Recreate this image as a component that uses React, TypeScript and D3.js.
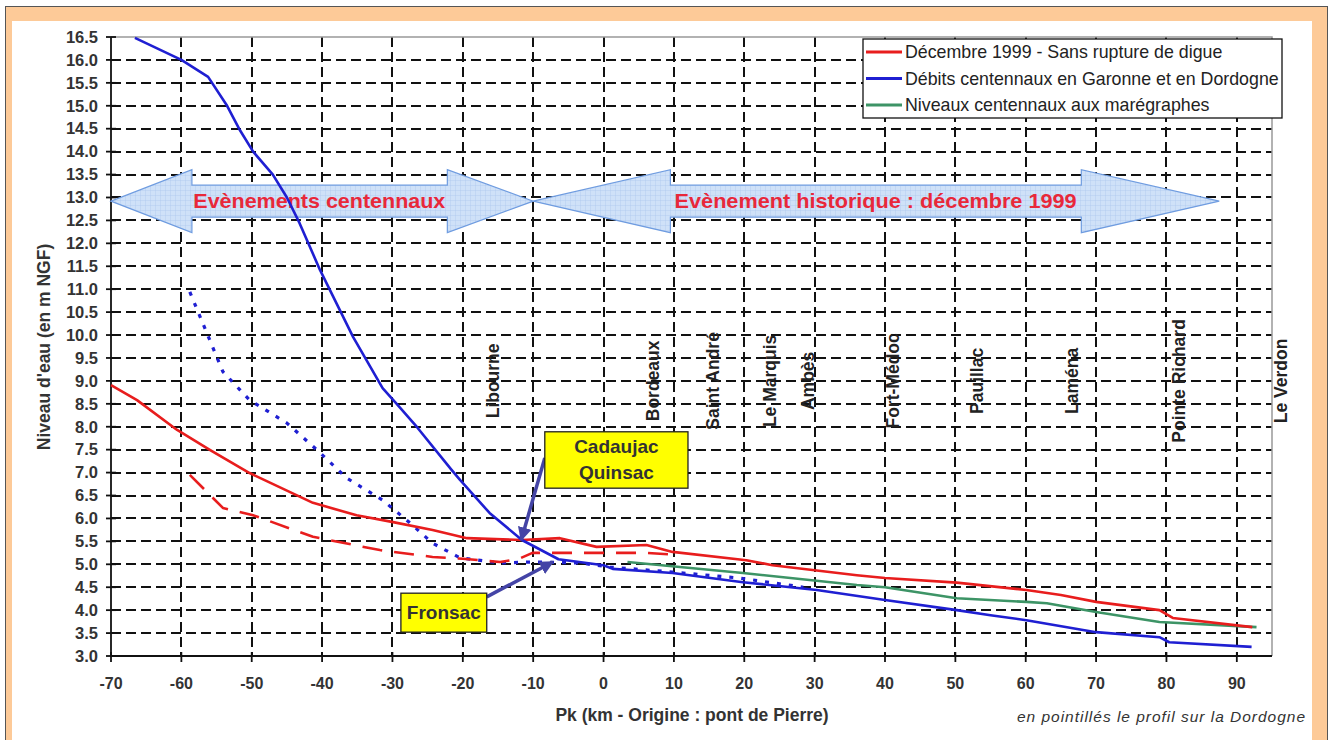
import * as d3 from 'd3'

// Pk (km) / niveau (m NGF)
const decembrePk = [-70, -66.3, -60.6, -55.9, -50.3, -41.3, -35.1, -29.9, -24.3, -19.4, -11.6, -6.2, -1, 6.1, 9.8, 20.3, 24, 36, 40, 50.2, 60.1, 65, 70, 79, 80.9, 92.2]
const decembreVal = [8.91, 8.58, 7.93, 7.49, 6.99, 6.34, 6.07, 5.92, 5.75, 5.57, 5.53, 5.57, 5.38, 5.42, 5.27, 5.09, 4.98, 4.76, 4.7, 4.6, 4.44, 4.33, 4.18, 4.0, 3.83, 3.63]

const debitsPk = [-66.6, -60, -56.2, -53.5, -51.8, -49.8, -47, -45, -43.2, -40.3, -35.6, -31.4, -29.4, -26.5, -21.6, -20.4, -16.2, -11.6, -6.4, 0, 1.3, 9.8, 19.8, 30.3, 40, 50.2, 55, 60.1, 70, 79, 80.4, 92.1]
const debitsVal = [16.48, 16.0, 15.63, 15.0, 14.5, 14.0, 13.5, 13.0, 12.44, 11.42, 9.96, 8.84, 8.5, 7.99, 7.06, 6.84, 6.12, 5.53, 5.11, 4.98, 4.9, 4.81, 4.61, 4.44, 4.22, 4.0, 3.89, 3.78, 3.52, 3.41, 3.3, 3.2]

const maregraphesPk = [3.4, 19.8, 36, 40, 50.2, 60.1, 63, 70, 79, 92.8]
const maregraphesVal = [5.05, 4.81, 4.55, 4.5, 4.26, 4.18, 4.15, 3.96, 3.74, 3.63]

// profils Dordogne (pointillés)
const decembreDordognePk = [-58.8, -54.1, -49.8, -41.3, -31.8, -24.3, -20, -14.7, -12, -10.1, -4.4, 6.1, 10.8]
const decembreDordogneVal = [6.95, 6.23, 6.07, 5.6, 5.31, 5.16, 5.12, 5.05, 5.12, 5.25, 5.25, 5.25, 5.2]

const debitsDordognePk = [-58.8, -54.1, -50.3, -45, -40.7, -36.5, -31.4, -27.5, -24.3, -20.4, -14.7, -10.1, -3.4, 0.9, 9.8, 19.3, 28.4]
const debitsDordogneVal = [10.94, 9.2, 8.58, 8.08, 7.49, 6.88, 6.4, 5.9, 5.46, 5.14, 5.03, 5.05, 5.03, 4.94, 4.83, 4.7, 4.5]

const placeNames = ['Libourne', 'Bordeaux', 'Saint André', 'Le Marquis', 'Ambès', 'Fort-Médoc', 'Pauillac', 'Laména', 'Pointe Richard', 'Le Verdon']
const placePk = [-15.7, 7.0, 15.5, 23.6, 29.0, 41.1, 53.0, 66.5, 81.8, 96.3]

const legendLabels = [
  'Décembre 1999 - Sans rupture de digue',
  'Débits centennaux en Garonne et en Dordogne',
  'Niveaux centennaux aux marégraphes',
]

const xTicks = d3.range(-70, 91, 10)
const yTicks = d3.range(3, 16.51, 0.5)

const RED = '#e81d1d'
const BLUE = '#1f1fd2'
const GREEN = '#3d9466'
const FONT = 'Liberation Sans, Arial, sans-serif'

const W = 1333
const H = 740

export default function App() {
  const x = d3.scaleLinear().domain([-70, 95]).range([111, 1272])
  const y = d3.scaleLinear().domain([3, 16.5]).range([656, 37])

  const line = (pk: number[], val: number[]) =>
    d3.line<number>().x((d) => x(pk[d])).y((d) => y(val[d]))(d3.range(pk.length)) || ''

  // double arrows (annotation) in data units
  const arrowY = 12.92
  const doubleArrow = (a: number, b: number, headL: number, headR: number) => {
    const yc = y(arrowY)
    const sh = 16
    const hh = 31.5
    const x0 = x(a)
    const x1 = x(b)
    const xl = x(a + headL)
    const xr = x(b - headR)
    return `M${x0},${yc} L${xl},${yc - hh} L${xl},${yc - sh} L${xr},${yc - sh} L${xr},${yc - hh} L${x1},${yc} L${xr},${yc + hh} L${xr},${yc + sh} L${xl},${yc + sh} L${xl},${yc + hh} Z`
  }

  const legendColors = [RED, BLUE, GREEN]

  return (
    <svg width={W} height={H} style={{ position: 'absolute', left: 0, top: 0, fontFamily: FONT }}>
      <defs>
        <pattern id="grid" width="5" height="5" patternUnits="userSpaceOnUse">
          <rect width="5" height="5" fill="#cfe1f8" />
          <path d="M5,0 L0,0 L0,5" fill="none" stroke="#a9c6ee" strokeWidth="0.7" />
        </pattern>
        <marker id="head" viewBox="0 0 10 10" refX="9" refY="5" markerWidth="4" markerHeight="4" orient="auto">
          <path d="M0,0 L10,5 L0,10 Z" fill="#4444a6" />
        </marker>
      </defs>

      {/* cadre */}
      <rect x={0} y={0} width={W} height={H} fill="#fff" />
      <rect x={5.5} y={6.5} width={1322} height={H} fill="#fdca98" stroke="#555" strokeWidth={1} />
      <rect x={12} y={21} width={1300} height={H} fill="#fff" />

      {/* grille */}
      <g stroke="#111" strokeWidth={2} strokeDasharray="10 5">
        {yTicks.filter((t) => t > 3 && t < 16.5).map((t) => (
          <line key={'h' + t} x1={x(-70)} x2={x(95)} y1={Math.round(y(t))} y2={Math.round(y(t))} />
        ))}
        {xTicks.filter((t) => t > -70).map((t) => (
          <line key={'v' + t} x1={Math.round(x(t))} x2={Math.round(x(t))} y1={y(16.5)} y2={y(3)} />
        ))}
      </g>
      <path d={`M${x(-70)},${y(16.5)} H${x(95)} V${y(3)}`} fill="none" stroke="#999" strokeWidth={1.5} />

      {/* axes */}
      <g stroke="#111" strokeWidth={1.8}>
        <line x1={x(-70)} x2={x(-70)} y1={y(16.5)} y2={y(3)} />
        <line x1={x(-70)} x2={x(95)} y1={y(3)} y2={y(3)} />
        {yTicks.map((t) => (
          <line key={'yt' + t} x1={x(-70) - 5} x2={x(-70) + 5} y1={y(t)} y2={y(t)} />
        ))}
        {xTicks.map((t) => (
          <line key={'xt' + t} x1={x(t)} x2={x(t)} y1={y(3) - 4} y2={y(3) + 6} />
        ))}
      </g>
      <g fill="#333" fontSize={16.5} fontWeight="bold">
        {yTicks.map((t) => (
          <text key={'yl' + t} x={98} y={y(t)} dy="0.35em" textAnchor="end">
            {t.toFixed(1)}
          </text>
        ))}
        {xTicks.map((t) => (
          <text key={'xl' + t} x={x(t)} y={689} textAnchor="middle" fontSize={16}>
            {t}
          </text>
        ))}
      </g>
      <text x={692} y={721} textAnchor="middle" fontSize={17.5} fontWeight="bold" fill="#333">
        Pk (km - Origine : pont de Pierre)
      </text>
      <text
        transform={`translate(50,347) rotate(-90)`}
        textAnchor="middle"
        fontSize={17.5}
        fontWeight="bold"
        fill="#333"
      >
        Niveau d'eau (en m NGF)
      </text>
      <text x={1305} y={722} textAnchor="end" fontSize={15.5} fontStyle="italic" fill="#333" textLength={288}>
        en pointillés le profil sur la Dordogne
      </text>

      {/* flèches évènements */}
      <g fill="url(#grid)" stroke="#6f9ce0" strokeWidth={1.2}>
        <path d={doubleArrow(-70, -10, 11.5, 12.2)} />
        <path d={doubleArrow(-10, 87.5, 19.5, 19.6)} />
      </g>
      <g fill="#e8283a" fontSize={21} fontWeight="bold">
        <text x={x(-58.3)} y={y(arrowY) + 7} textLength={252} lengthAdjust="spacingAndGlyphs">
          Evènements centennaux
        </text>
        <text x={x(10.1)} y={y(arrowY) + 7} textLength={402} lengthAdjust="spacingAndGlyphs">
          Evènement historique : décembre 1999
        </text>
      </g>

      {/* noms de lieux */}
      <g fill="#222" fontSize={17.5} fontWeight="bold">
        {placeNames.map((n, i) => (
          <text
            key={n}
            transform={`translate(${x(placePk[i])},${y(9)}) rotate(-90)`}
            textAnchor="middle"
            dy="0.35em"
          >
            {n}
          </text>
        ))}
      </g>

      {/* courbes */}
      <g fill="none" strokeLinejoin="round">
        <path d={line(debitsDordognePk, debitsDordogneVal)} stroke={BLUE} strokeWidth={3.2} strokeDasharray="4 8" />
        <path d={line(decembreDordognePk, decembreDordogneVal)} stroke={RED} strokeWidth={2.6} strokeDasharray="20 12" />
        <path d={line(maregraphesPk, maregraphesVal)} stroke={GREEN} strokeWidth={2.6} />
        <path d={line(decembrePk, decembreVal)} stroke={RED} strokeWidth={2.6} />
        <path d={line(debitsPk, debitsVal)} stroke={BLUE} strokeWidth={2.6} />
      </g>

      {/* étiquettes */}
      <g stroke="#4444a6" strokeWidth={3.5} markerEnd="url(#head)">
        <line x1={x(-8.35)} y1={y(7.32)} x2={x(-11.7)} y2={y(5.53)} />
        <line x1={x(-16.6)} y1={y(4.29)} x2={x(-7.2)} y2={y(5.05)} />
      </g>
      <g fill="#ffff00" stroke="#222" strokeWidth={1.3}>
        <rect x={x(-8.35)} y={y(7.89)} width={x(12) - x(-8.35)} height={y(6.66) - y(7.89)} />
        <rect x={x(-28.8)} y={y(4.37)} width={x(-16.6) - x(-28.8)} height={y(3.52) - y(4.37)} />
      </g>
      <g fill="#333" fontSize={19} fontWeight="bold" textAnchor="middle">
        <text x={(x(-8.35) + x(12)) / 2} y={453}>Cadaujac</text>
        <text x={(x(-8.35) + x(12)) / 2} y={479}>Quinsac</text>
        <text x={(x(-28.8) + x(-16.6)) / 2} y={619}>Fronsac</text>
      </g>

      {/* légende */}
      <rect x={863} y={39} width={419} height={79} fill="#fff" stroke="#111" strokeWidth={1.3} />
      {legendLabels.map((l, i) => (
        <g key={l} transform={`translate(0,${52 + i * 26.5})`}>
          <line x1={866} x2={902} y1={0} y2={0} stroke={legendColors[i]} strokeWidth={3.2} />
          <text x={905} y={0} dy="0.35em" fontSize={17.8} fill="#222">
            {l}
          </text>
        </g>
      ))}
    </svg>
  )
}
